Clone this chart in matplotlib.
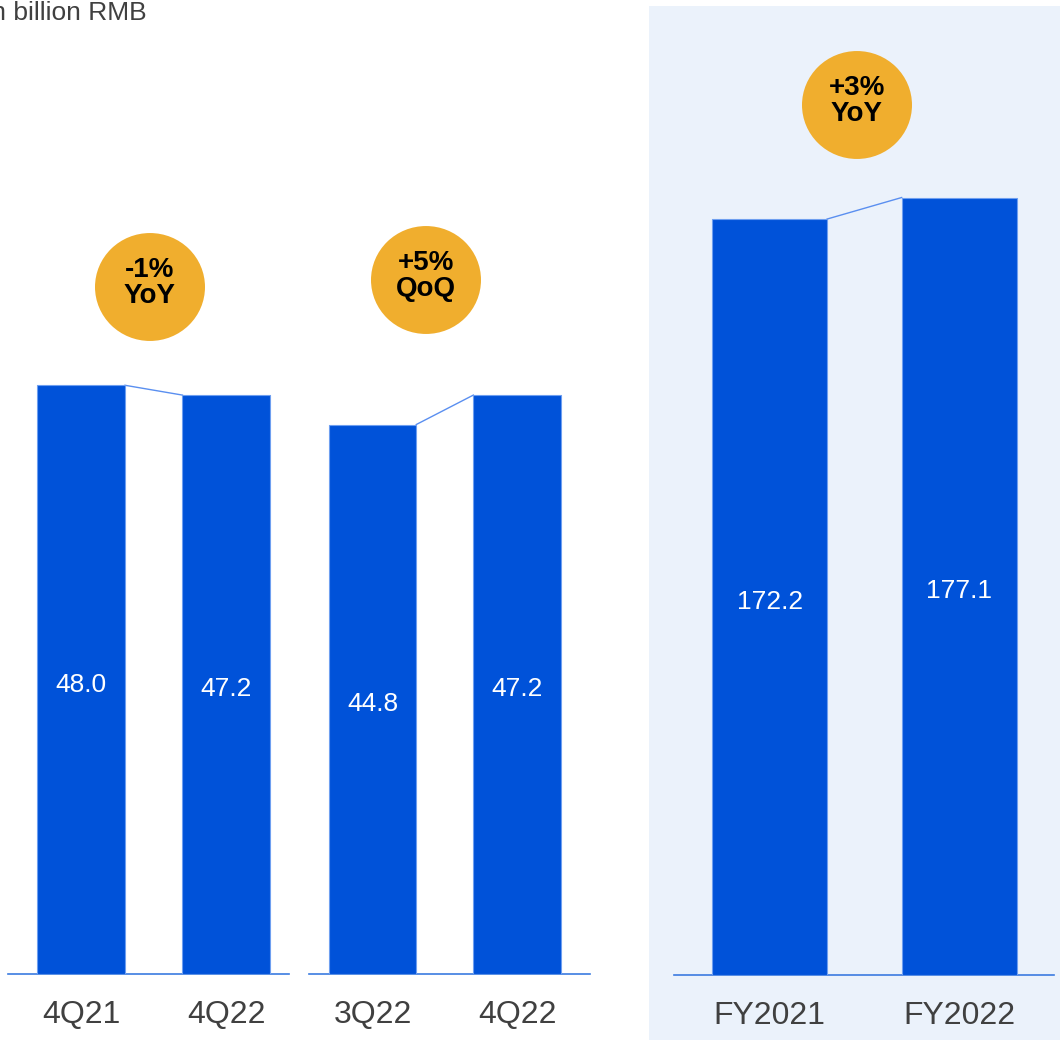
import matplotlib
matplotlib.use("Agg")
import matplotlib.pyplot as plt
from matplotlib.patches import Circle, Rectangle

plt.rcParams['font.family'] = ['Liberation Sans', 'DejaVu Sans']

# Revenue, in billion RMB
yoy_labels = ["4Q21", "4Q22"]
yoy_values = [48.0, 47.2]
qoq_labels = ["3Q22", "4Q22"]
qoq_values = [44.8, 47.2]
fy_labels = ["FY2021", "FY2022"]
fy_values = [172.2, 177.1]
badges = ["-1%\nYoY", "+5%\nQoQ", "+3%\nYoY"]
unit_text = "In billion RMB"

BAR = "#0052d9"
EDGE = "#6e9ff0"
LINK = "#5a8ff0"
GOLD = "#f0ae2e"
PANEL_BG = "#ebf2fb"
TICK = "#404040"

W, H = 1060, 1040
fig = plt.figure(figsize=(W / 100, H / 100), dpi=100)

# shaded background behind the full-year panel
fig.patches.append(Rectangle((649 / W, 0), (W - 649) / W, (H - 6) / H,
                             transform=fig.transFigure, facecolor=PANEL_BG,
                             edgecolor="none", zorder=-1))


def panel(left_px, right_px, base_px, xlim, ymax, labels, values, width):
    ax = fig.add_axes([left_px / W, (H - base_px) / H,
                       (right_px - left_px) / W, base_px / H])
    ax.set_zorder(1)
    ax.set_facecolor("none")
    ax.set_xlim(*xlim)
    ax.set_ylim(0, ymax)
    x = list(range(len(values)))
    ax.bar(x, values, width=width, color=BAR, edgecolor=EDGE,
           linewidth=0.8, zorder=3)
    # connector between the tops of the two bars
    ax.plot([x[0] + width / 2, x[1] - width / 2], [values[0], values[1]],
            color=LINK, linewidth=1.0, zorder=2)
    for xi, v in zip(x, values):
        ax.annotate(f"{v:.1f}", (xi, v / 2), xytext=(0, -3.5),
                    textcoords="offset points", ha="center", va="center",
                    color="white", fontsize=19, zorder=4)
    for s in ["top", "right", "left"]:
        ax.spines[s].set_visible(False)
    ax.spines["bottom"].set_color("#3b7be0")
    ax.spines["bottom"].set_linewidth(1.2)
    ax.set_yticks([])
    ax.set_xticks(x)
    ax.set_xticklabels(labels, fontsize=23, color=TICK)
    ax.tick_params(axis="x", length=0, pad=19)
    return ax


panel(8, 289, 974, (-0.502, 1.43), 974 / 12.265, yoy_labels, yoy_values, 0.605)
panel(309, 590, 974, (-0.44, 1.505), 974 / 12.265, qoq_labels, qoq_values, 0.605)
panel(674, 1054, 975, (-0.504, 1.5), 975 / 4.39, fy_labels, fy_values, 0.607)

# change badges
for (cx, cy), txt in zip([(150, 287), (426, 280), (857, 105)], badges):
    fig.patches.append(Circle((cx / W, 1 - cy / H), 55 / W,
                              transform=fig.transFigure, facecolor=GOLD,
                              edgecolor="none", zorder=5))
    fig.text(cx / W, 1 - (cy - 4) / H, txt, ha="center", va="center",
             fontsize=20, fontweight="bold", color="black",
             linespacing=1.0, zorder=6)

fig.text(147 / W, 1 - 13 / H, unit_text, ha="right", va="center",
         fontsize=19, color=TICK)

fig.savefig("out.png", dpi=100)
